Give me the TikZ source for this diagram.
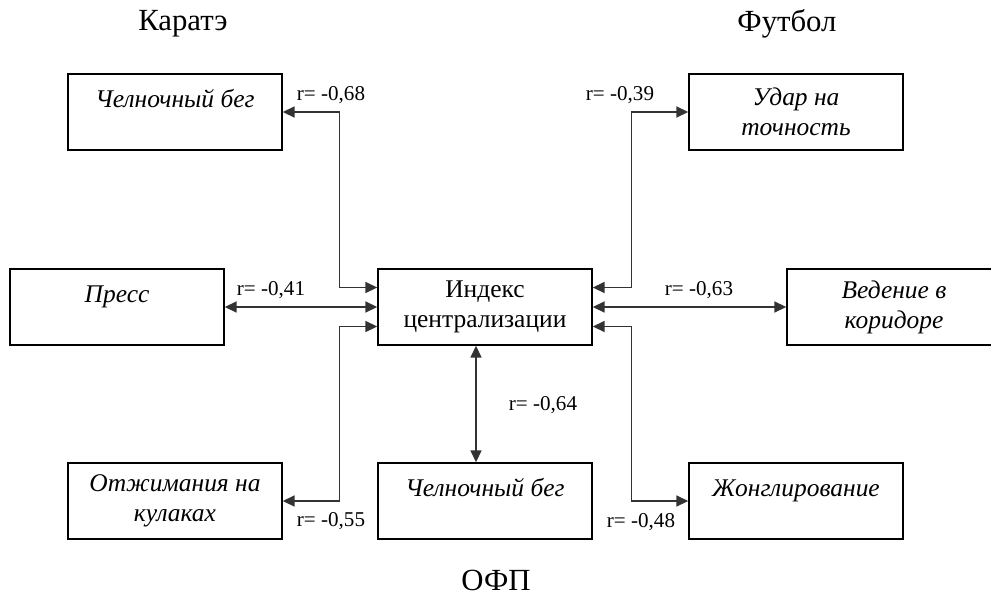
\documentclass[tikz,border=0pt]{standalone}
\usepackage{fontspec}
\setmainfont{Liberation Serif}
\usetikzlibrary{arrows.meta}
\tikzset{
  box/.style={draw=black, line width=0.8pt, fill=white, minimum width=4.28cm, minimum height=1.52cm, inner sep=0pt, align=center, font=\fontsize{14.5}{17}\selectfont\itshape},
  hub/.style={box, font=\fontsize{14.5}{17}\selectfont},
  link/.style={draw=black!80, line width=0.9pt, {Triangle[length=0.24cm,width=0.22cm]}-{Triangle[length=0.24cm,width=0.22cm]}},
  rlabel/.style={font=\fontsize{12}{14}\selectfont, inner sep=0pt},
  grouptitle/.style={font=\fontsize{17.5}{20}\selectfont, inner sep=0pt},
}
\begin{document}
\begin{tikzpicture}[x={(0.02cm,0)}, y={(0,-0.02cm)}]
\useasboundingbox (0,0) rectangle (991,596);
\node[grouptitle] (karate) at (183,24) {Каратэ};
\node[grouptitle] (football) at (787,24) {Футбол};
\node[grouptitle] (ofptitle) at (496,580) {ОФП};
\node[hub] (idx) at (485,307) {Индекс\\централизации};
\node[box] (kar1) at (175,112) {Челночный бег\\[-7pt]\strut};
\node[box] (kar2) at (117,307) {Пресс\\[-7pt]\strut};
\node[box] (kar3) at (175,501) {Отжимания на\\кулаках};
\node[box] (ofp) at (485,501) {Челночный бег\\[-7pt]\strut};
\node[box] (fut1) at (796,112) {Удар на\\точность};
\node[box] (fut2) at (894,307) {Ведение в\\коридоре};
\node[box] (fut3) at (796,501) {Жонглирование\\[-7pt]\strut};
\coordinate (iL1) at ([yshift=0.39cm]idx.west);
\coordinate (iL3) at ([yshift=-0.39cm]idx.west);
\coordinate (iR1) at ([yshift=0.39cm]idx.east);
\coordinate (iR3) at ([yshift=-0.39cm]idx.east);
\draw[link] (kar1.east) -| ([xshift=-0.76cm]iL1) -- (iL1);
\draw[link] (kar2.east) -- (idx.west);
\draw[link] (kar3.east) -| ([xshift=-0.76cm]iL3) -- (iL3);
\draw[link] ([xshift=-0.18cm]idx.south) -- ([xshift=-0.18cm]ofp.north);
\draw[link] (fut1.west) -| ([xshift=0.78cm]iR1) -- (iR1);
\draw[link] (idx.east) -- (fut2.west);
\draw[link] (fut3.west) -| ([xshift=0.78cm]iR3) -- (iR3);
\node[rlabel] (r1) at (331,95) {r= -0,68};
\node[rlabel] (r2) at (271,290) {r= -0,41};
\node[rlabel] (r3) at (331,521) {r= -0,55};
\node[rlabel] (r4) at (543,405) {r= -0,64};
\node[rlabel] (r5) at (620,95) {r= -0,39};
\node[rlabel] (r6) at (699,290) {r= -0,63};
\node[rlabel] (r7) at (641,522) {r= -0,48};
\end{tikzpicture}
\end{document}
